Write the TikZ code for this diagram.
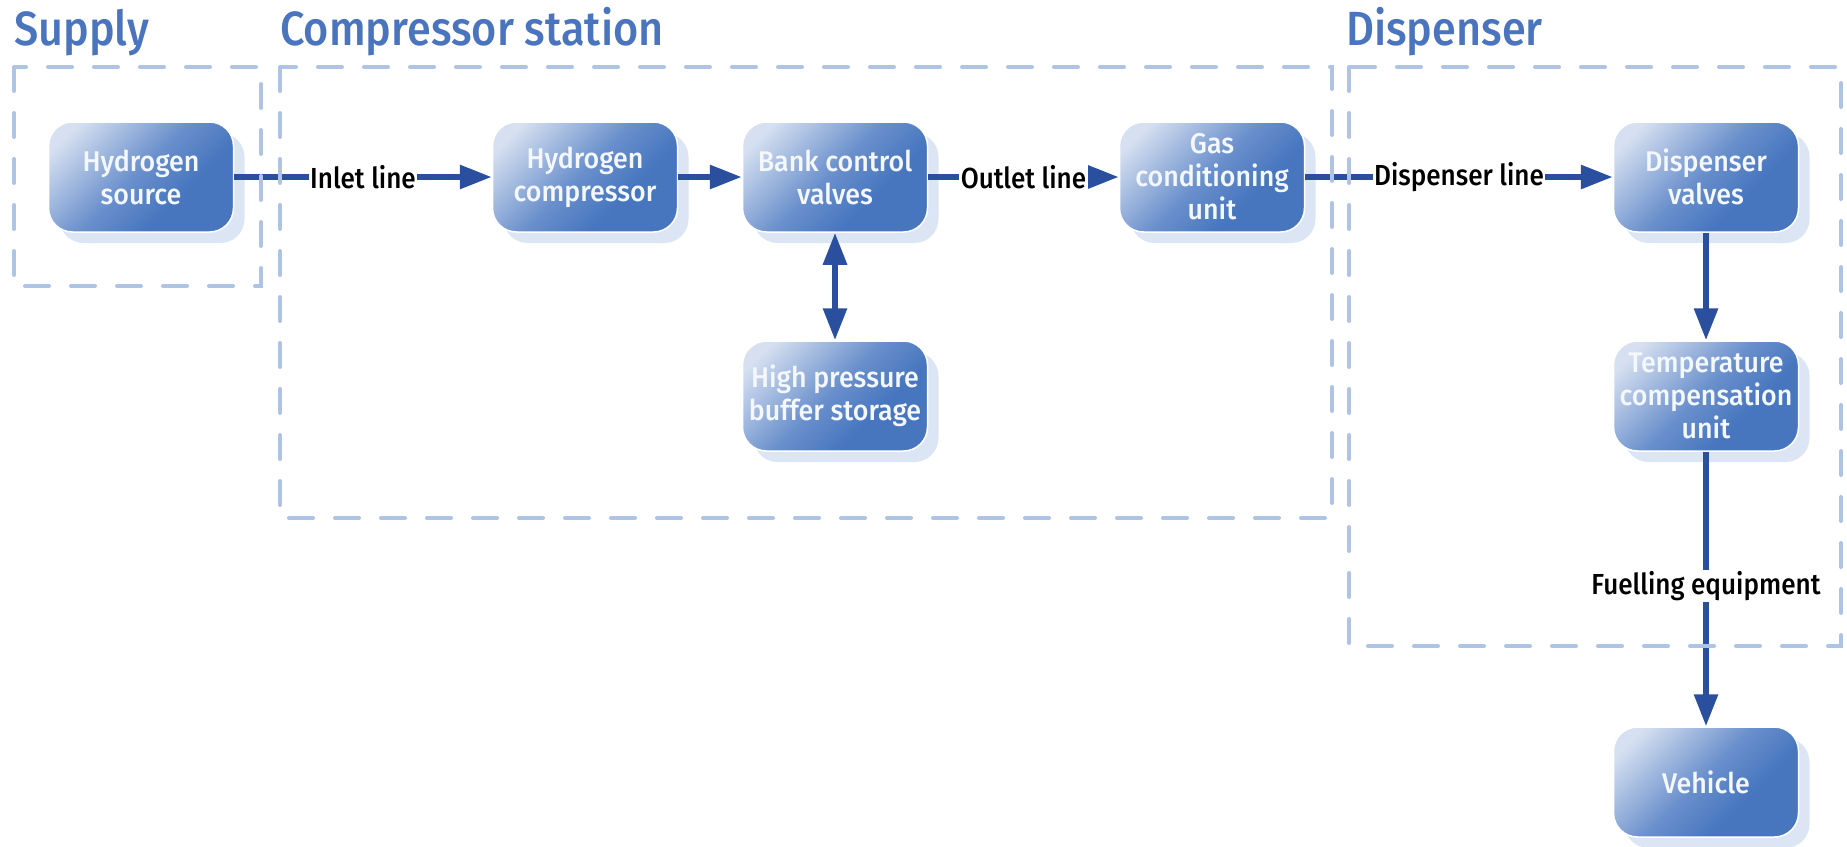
\documentclass[tikz,border=0pt]{standalone}
\usepackage{fontspec}
\setmainfont{Fira Sans}[FakeStretch=0.9]
\newfontfamily\medfont{Fira Sans}[UprightFont=* Medium, FakeStretch=0.9]
\newfontfamily\boxfont{Fira Sans}[UprightFont=* Medium, FakeStretch=0.94]
\usetikzlibrary{arrows.meta,shadows}

\definecolor{boxlight}{HTML}{D6E0F1}
\definecolor{boxmid}{HTML}{6A90CC}
\definecolor{boxblue}{HTML}{4776BF}
\definecolor{shadowblue}{HTML}{DCE5F4}
\definecolor{arrowblue}{HTML}{2A4F9E}
\definecolor{titleblue}{HTML}{4A75BE}
\definecolor{dashblue}{HTML}{AFC3E5}
\definecolor{boxtext}{HTML}{F4F7FC}

% diagonal fill of the process boxes: pale corner fading into blue
\pgfdeclarehorizontalshading{boxshade}{100bp}{color(0bp)=(boxlight); color(22bp)=(boxlight); color(48bp)=(boxmid); color(64bp)=(boxblue); color(100bp)=(boxblue)}

\tikzset{
  procbox/.style={rounded corners=24pt, minimum width=185pt, minimum height=110pt,
    inner sep=0pt, draw=white, line width=1.5pt, shading=boxshade, shading angle=-45,
    text=boxtext, align=center, font=\boxfont\fontsize{28.5}{33}\selectfont,
    general shadow={fill=shadowblue, draw=none, shadow xshift=11pt, shadow yshift=-11pt}},
  conn/.style={draw=arrowblue, line width=6pt, -{Triangle[length=32pt, width=23pt]}},
  link/.style={draw=arrowblue, line width=6pt},
  lbl/.style={fill=white, text=black, inner sep=1.5pt, font=\medfont\fontsize{29}{32}\selectfont},
  dashbox/.style={draw=dashblue, line width=4pt, line cap=round, dash pattern=on 24pt off 22pt},
  title/.style={text=titleblue, inner sep=0pt, font=\medfont\fontsize{48}{50}\selectfont}
}

\begin{document}
\begin{tikzpicture}[x=1pt, y=-1pt]
\useasboundingbox (0,0) rectangle (1847,846);

% section titles
\node[title, anchor=base west] (tsup) at (14,45) {Supply};
\node[title, anchor=base west] (tcomp) at (280,45) {Compressor station};
\node[title, anchor=base west] (tdisp) at (1346,45) {Dispenser};

% process boxes
\node[procbox] (hs)  at (141,177)  {Hydrogen\\source};
\node[procbox] (hc)  at (585,177)  {Hydrogen\\compressor};
\node[procbox] (bcv) at (835,177)  {Bank control\\valves};
\node[procbox] (gcu) at (1212,177) {Gas\\conditioning\\unit};
\node[procbox] (dv)  at (1706,177) {Dispenser\\valves};
\node[procbox] (hpb) at (835,396)  {High pressure\\buffer storage};
\node[procbox] (tcu) at (1706,396) {Temperature\\compensation\\unit};
\node[procbox] (veh) at (1706,782) {Vehicle};

% gas flow
\draw[conn] (hs) -- node[lbl] (linlet) {Inlet line} (hc);
\draw[conn] (hc) -- (bcv);
\draw[conn] (bcv) -- node[lbl] (lout) {Outlet line} (gcu);
\draw[conn] (gcu) -- node[lbl] (ldisp) {Dispenser line} (dv);
\draw[link, {Triangle[length=32pt, width=23pt]}-{Triangle[length=32pt, width=23pt]}] (bcv) -- (hpb);
\draw[conn] (dv) -- (tcu);
\draw[conn] (tcu) -- node[lbl, pos=0.49] (lfuel) {Fuelling equipment} (veh);

% section frames
\draw[dashbox] (14,67) rectangle (261,286);
\draw[dashbox] (280,67) rectangle (1332,518);
\draw[dashbox] (1349,67) rectangle (1841,646);
\end{tikzpicture}
\end{document}
